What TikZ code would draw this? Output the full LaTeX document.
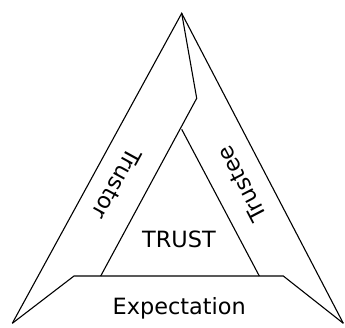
\documentclass[tikz,border=0pt]{standalone}
\usepackage{fontspec}
\setmainfont{DejaVu Sans}
\usepackage{tikz}
\usetikzlibrary{positioning, calc}
\definecolor{mydark}{RGB}{0,0,0}
\tikzset{
  edge/.style={line width=1.1pt, color=mydark, line join=miter},
  label/.style={font=\fontsize{22.4}{26}\selectfont, inner sep=0pt, color=mydark}
}

\begin{document}
\begin{tikzpicture}[x=1pt, y=-1pt]
  \useasboundingbox (0,0) rectangle (345,327);

  % Corners of the big triangle
  \coordinate (apex) at (181.7,13.3);
  \coordinate (botleft) at (12.3,323.3);
  \coordinate (botright) at (343.3,323.3);

  % Inner points
  \coordinate (kink) at (196.7,98.3);
  \coordinate (innertop) at (181.7,129.3);
  \coordinate (trustorfoot) at (100.7,276);
  \coordinate (trusteefoot) at (259.3,276);
  \coordinate (expleft) at (74,276);
  \coordinate (expright) at (283.3,276);

  % Outer sides
  \draw[edge] (botleft) -- (apex) -- (botright);

  % Trustor band
  \draw[edge] (apex) -- (kink) -- (trustorfoot);

  % Trustee band
  \draw[edge] (innertop) -- (trusteefoot);

  % Expectation band
  \draw[edge] (botleft) -- (expleft) -- (expright) -- (botright);

  % Labels
  \node[label] (trust) at (179,239.7) {TRUST};
  \node[label, anchor=base] (expect) at (179.2,314.3) {Expectation};
  \node[label, rotate=241.35] (trustor) at (117,184) {Trustor};
  \node[label, rotate=117.5] (trustee) at (242,184) {Trustee};
\end{tikzpicture}
\end{document}
